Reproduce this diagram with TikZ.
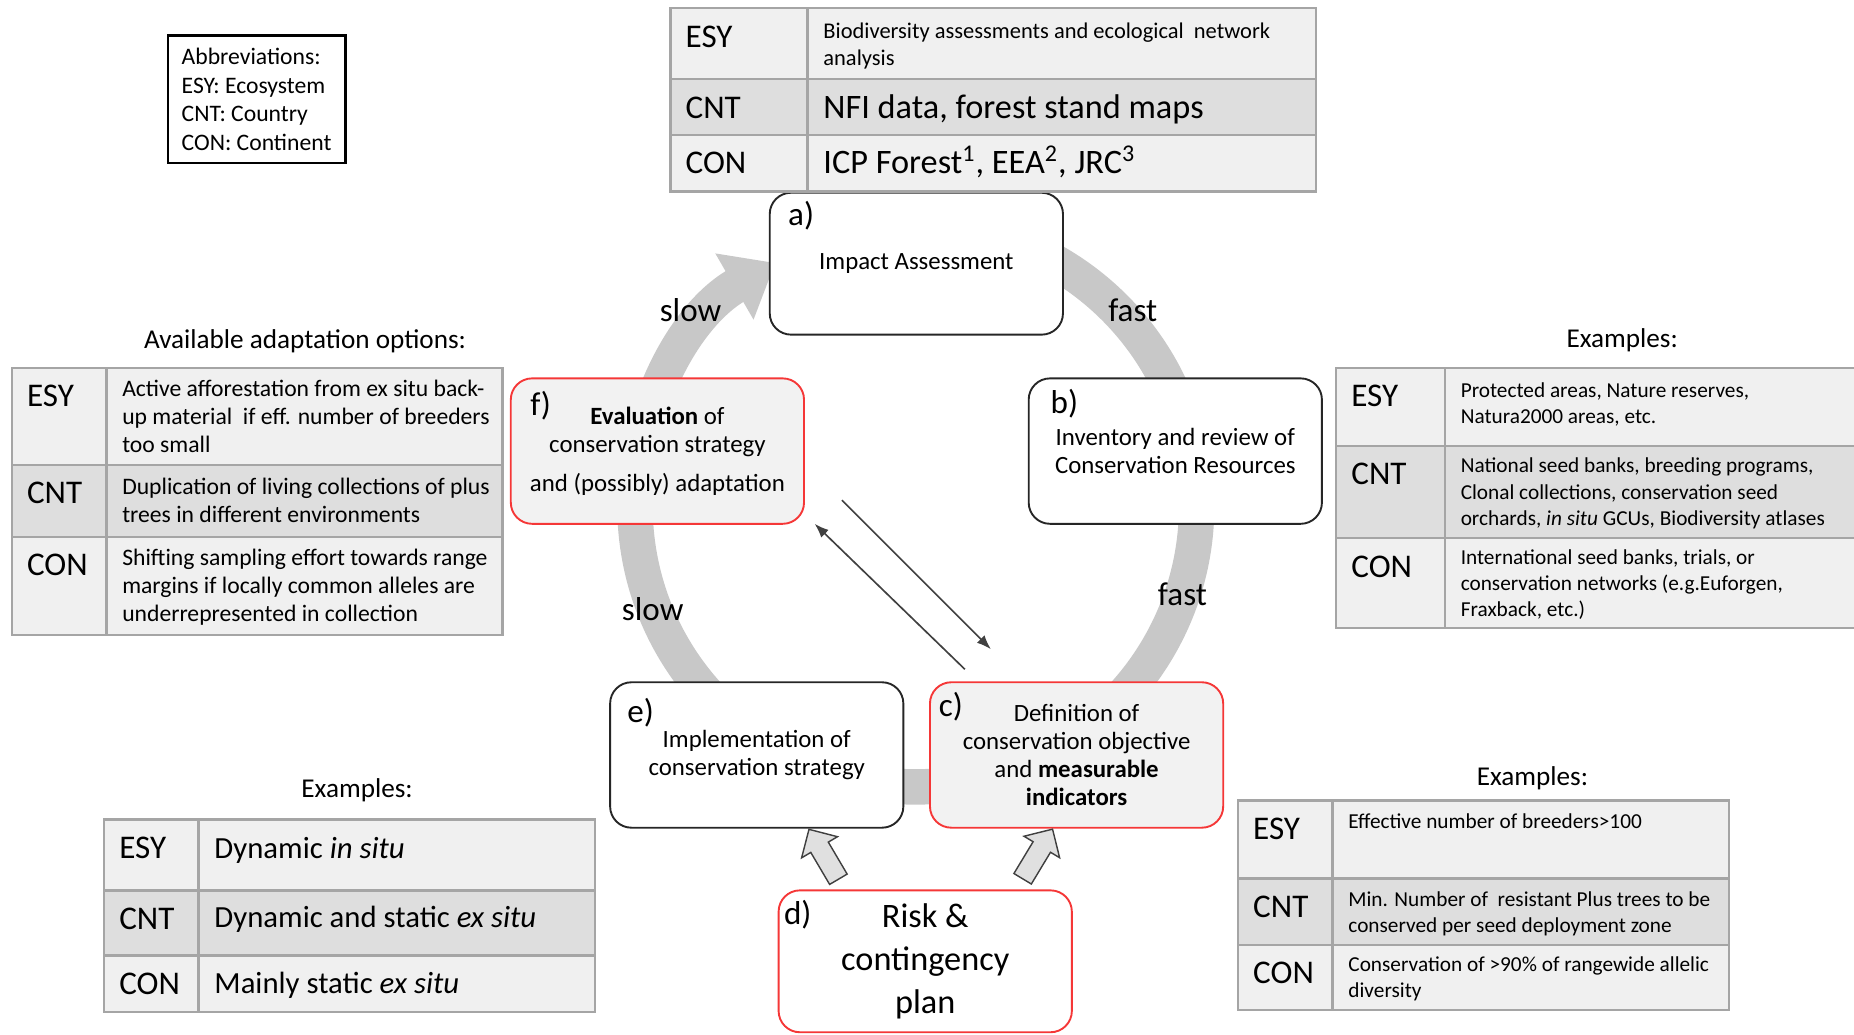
\documentclass[tikz,border=0pt]{standalone}
\usepackage{fontspec}
\setmainfont{Carlito}
\usetikzlibrary{positioning,arrows.meta,shapes.arrows}
\definecolor{ringgray}{RGB}{200,200,200}
\definecolor{boxred}{RGB}{245,55,55}
\definecolor{rowl}{RGB}{240,240,240}
\definecolor{rowd}{RGB}{222,222,222}
\definecolor{cellline}{RGB}{165,165,165}
\newcommand{\fsz}[2]{\fontsize{#1}{#2}\selectfont}
\tikzset{cbox/.style={draw=black!85,line width=0.8pt,fill=white,rounded corners=9pt,
           minimum width=124pt,minimum height=61.5pt,align=center,font=\fsz{10.5}{11.8}},
	 rbox/.style={cbox,draw=boxred,fill=black!5},
	 tag/.style={inner sep=0pt,font=\fsz{14}{17}},
	 speed/.style={font=\fsz{14}{17}},
	 ring/.style={draw=ringgray,line width=15pt,-{Triangle[width=31pt,length=20pt]}},
	 barrow/.style={single arrow,draw=black!75,fill=black!12,line width=0.6pt,inner sep=4pt,
           minimum height=24.5pt,single arrow head extend=4.5pt},
	 thinarr/.style={draw=black!75,line width=0.7pt,-{Latex[length=6pt,width=4.5pt]}},
	 tcell/.style={draw=cellline,line width=1pt},
	 tlab/.style={anchor=base west,inner sep=0pt,font=\fsz{14}{17}},
	 tdesc/.style={anchor=base west,inner sep=0pt},
	 ttl/.style={font=\fsz{11.5}{14}},
	 abbr/.style={draw,line width=1.1pt,align=left,minimum width=75pt,minimum height=54pt,font=\fsz{10}{12}}
	 }
% one row of a table: name, top, bottom, fill, label, text, baseline of text
\newcommand{\tabrow}[7]{%
	\filldraw[tcell,fill=#4] (\colA,#2) rectangle (\colB,#3);
	\filldraw[tcell,fill=#4] (\colB,#2) rectangle (\colC,#3);
	\node[tlab] (#1-l) at (\colA+12.5,#2+33) {#5};
	\node[tdesc] (#1-t) at (\colB+13,#2+#7) {\parbox[t]{12cm}{#6}};}

\begin{document}
\begin{tikzpicture}[x=0.5pt,y=-0.5pt] % conservation cycle
	\useasboundingbox (0,0) rectangle (1568,875);
	\coordinate (ctr) at (774.5,428);
	\draw[ring] (ctr) ++(95:118.75pt) arc[start angle=95,end angle=-240,radius=118.75pt];

	\node[cbox,minimum height=60pt] (a) at (775,223) {Impact Assessment};
	\node[cbox] (b) at (994,381.5) {Inventory and review of\\Conservation Resources};
	\node[rbox] (f) at (556,381.5) {\textbf{Evaluation} of\\conservation strategy\\[4.5pt]and (possibly) adaptation};
	\node[cbox] (e) at (640,638.5) {Implementation of\\conservation strategy};
	\node[rbox] (c) at (910.5,638.5) {Definition of\\conservation objective\\and \textbf{measurable}\\\textbf{indicators}};
	\node[cbox,draw=boxred,minimum height=60pt,font=\fsz{14.5}{18}] (d) at (782.5,813) {Risk \&\\contingency\\plan};

	\node[tag,below right=4pt and 8pt of a.north west] (a-tag) {a)};
	\node[tag,below right=5pt and 9.5pt of b.north west] (b-tag) {b)};
	\node[tag,below right=4.5pt and 4pt of c.north west] (c-tag) {c)};
	\node[tag,below right=4.5pt and 2.5pt of d.north west] (d-tag) {d)};
	\node[tag,below right=7pt and 7.5pt of e.north west] (e-tag) {e)};
	\node[tag,below right=5.5pt and 8.5pt of f.north west] (f-tag) {f)};

	\node[speed] (slow1) at (584,262) {slow};
	\node[speed] (slow2) at (552,515) {slow};
	\node[speed] (fast1) at (958,262) {fast};
	\node[speed] (fast2) at (1000,503) {fast};

	\node[barrow,rotate=120.5] (larr) at (698.8,726.2) {};
	\node[barrow,rotate=58.9] (rarr) at (875.3,725.9) {};

	\coordinate (fc1) at (712,423);
	\coordinate (fc2) at (838,549);
	\coordinate (cf1) at (816,566);
	\coordinate (cf2) at (689,443);
	\draw[thinarr] (fc1) to (fc2);
	\draw[thinarr] (cf1) to (cf2);

	\node[abbr] (abbr) at (217,84) {Abbreviations:\\ESY: Ecosystem\\CNT: Country\\CON: Continent};

	% impact data
	\def\colA{567}\def\colB{683}\def\colC{1113}
	\tabrow{ta1}{7}{67}{rowl}{ESY}{\fsz{9.5}{11.5}Biodiversity assessments and ecological\ \ network\\analysis}{25.5}
	\tabrow{ta2}{67}{114}{rowd}{CNT}{\fsz{14.5}{17}NFI data, forest stand maps}{33}
	\tabrow{ta3}{114}{162}{rowl}{CON}{\fsz{14.5}{17}ICP Forest\textsuperscript{1}, EEA\textsuperscript{2}, JRC\textsuperscript{3}}{33}

	% adaptation options
	\node[ttl] (tl-ttl) at (258,289) {Available adaptation options:};
	\def\colA{10}\def\colB{90}\def\colC{425}
	\tabrow{tl1}{311}{393}{rowl}{ESY}{\fsz{10}{11.75}Active afforestation from ex situ back-\\up material\ \ if eff. number of breeders\\too small}{24.5}
	\tabrow{tl2}{393}{454}{rowd}{CNT}{\fsz{10}{11.75}Duplication of living collections of plus\\trees in different environments}{25.5}
	\tabrow{tl3}{454}{537}{rowl}{CON}{\fsz{10}{11.75}Shifting sampling effort towards range\\margins if locally common alleles are\\underrepresented in collection}{24.5}

	% resources
	\node[ttl] (tr-ttl) at (1372,288) {Examples:};
	\def\colA{1130}\def\colB{1222}\def\colC{1620}
	\tabrow{tr1}{311}{377}{rowl}{ESY}{\fsz{9}{11.2}Protected areas, Nature reserves,\\Natura2000 areas, etc.}{25}
	\tabrow{tr2}{377}{455}{rowd}{CNT}{\fsz{9}{11.1}National seed banks, breeding programs,\\Clonal collections, conservation seed\\orchards, \textit{in situ} GCUs, Biodiversity atlases}{23}
	\tabrow{tr3}{455}{531}{rowl}{CON}{\fsz{9}{11.1}International seed banks, trials, or\\conservation networks (e.g.Euforgen,\\Fraxback, etc.)}{22}

	% strategy
	\node[ttl] (tb-ttl) at (302,668) {Examples:};
	\def\colA{88}\def\colB{168}\def\colC{503}
	\tabrow{tb1}{693}{753}{rowl}{ESY}{\fsz{13}{16}Dynamic \textit{in situ}}{33}
	\tabrow{tb2}{753}{808}{rowd}{CNT}{\fsz{13}{16}Dynamic and static \textit{ex situ}}{31.5}
	\tabrow{tb3}{808}{856}{rowl}{CON}{\fsz{13}{16}Mainly static \textit{ex situ}}{32.5}

	% indicators
	\node[ttl] (td-ttl) at (1296,658) {Examples:};
	\def\colA{1047}\def\colB{1127}\def\colC{1462}
	\tabrow{td1}{677}{743}{rowl}{ESY}{\fsz{9}{11}Effective number of breeders>100}{24}
	\tabrow{td2}{743}{799}{rowd}{CNT}{\fsz{9}{11}Min. Number of\ \ resistant Plus trees to be\\conserved per seed deployment zone}{24}
	\tabrow{td3}{799}{854}{rowl}{CON}{\fsz{9}{11}Conservation of >90\% of rangewide allelic\\diversity}{23}
\end{tikzpicture}
\end{document}
